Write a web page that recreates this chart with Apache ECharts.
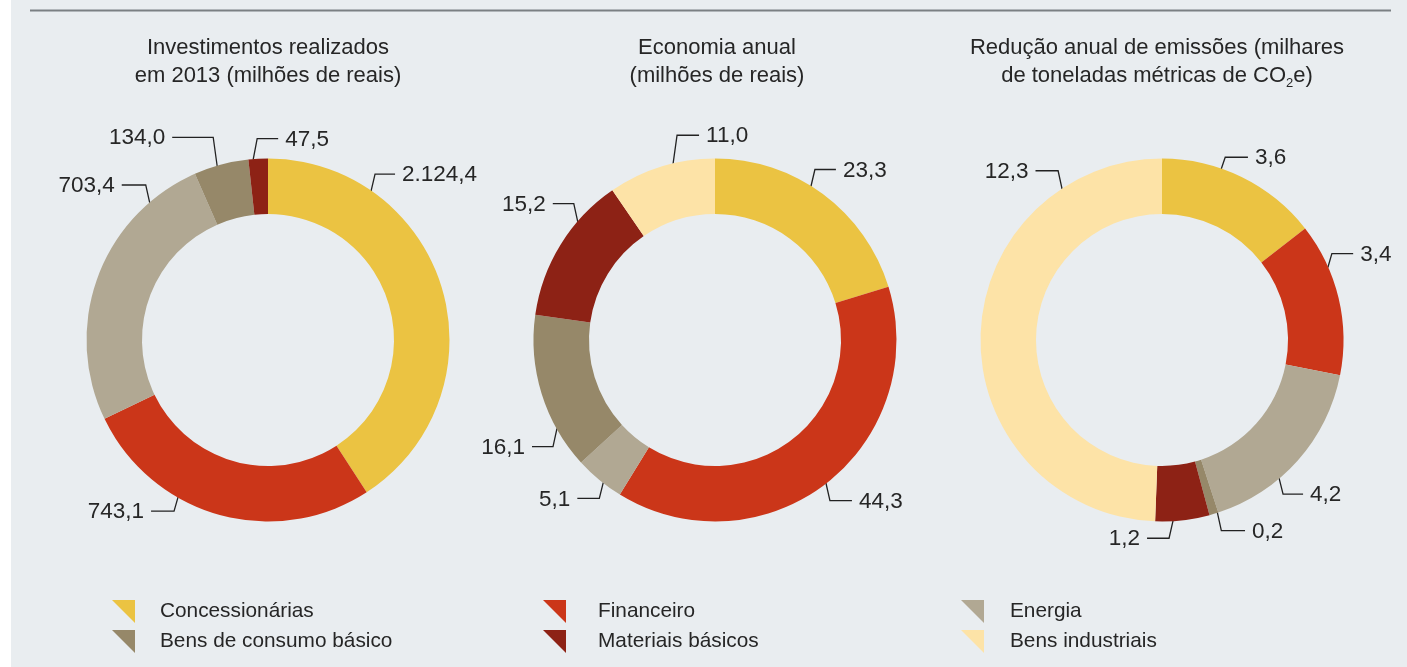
<!DOCTYPE html>
<html><head><meta charset="utf-8">
<script src="https://cdn.jsdelivr.net/npm/echarts@6/dist/echarts.min.js"></script>
<style>html,body{margin:0;padding:0;background:#fff;}#c{width:1407px;height:667px;}</style>
</head><body><div id="c"></div>
<script>
// ---------- DATA ----------
const categories = ['Concessionárias', 'Financeiro', 'Energia', 'Bens de consumo básico', 'Materiais básicos', 'Bens industriais'];
// Chart 1: slice sizes as drawn in the picture (the yellow slice is drawn ~1.124,4 although its printed label reads 2.124,4)
const invValues = [1124.4, 743.1, 703.4, 134.0, 47.5];
const invLabels = ['2.124,4', '743,1', '703,4', '134,0', '47,5'];
// Chart 2
const ecoValues = [23.3, 44.3, 5.1, 16.1, 15.2, 11.0];
const ecoLabels = ['23,3', '44,3', '5,1', '16,1', '15,2', '11,0'];
// Chart 3
const emiValues = [3.6, 3.4, 4.2, 0.2, 1.2, 12.3];
const emiLabels = ['3,6', '3,4', '4,2', '0,2', '1,2', '12,3'];
const titleTexts = [
  'Investimentos realizados\nem 2013 (milhões de reais)',
  'Economia anual\n(milhões de reais)',
  'Redução anual de emissões (milhares\nde toneladas métricas de CO{sub|2}e)'
];

// ---------- STYLE / LAYOUT ----------
const colors = ['#EBC342', '#CB3619', '#B1A893', '#968869', '#8D2215', '#FDE3A7'];
const FONT = "'Liberation Sans', Arial, sans-serif";
const TXT = '#262626';
const CENTERS = [[268, 340], [715, 340], [1162, 340]];
const TITLE_X = [268, 717, 1157];
const R_IN = 126, R_OUT = 181.5;
// leader line geometry per label: [anchor angle (deg clockwise from 12 o'clock), vertical leg, side (+1 right/-1 left), horizontal leg]
const LABEL_GEOM = [
  [[34.7, 17, 1, 20], [209.8, 14, -1, 23], [319.2, 18, -1, 24], [343.7, 29, -1, 41], [355.3, 21, 1, 21]],
  [[32, 17, 1, 21], [142.2, 17.6, 1, 22], [218.1, 16, -1, 22], [240.8, 18.4, -1, 21], [310.7, 18.4, -1, 21], [346.6, 28.7, 1, 22]],
  [[19.1, 11.7, 1, 22.7], [66.4, 14, 1, 21.3], [139.7, 16, 1, 20], [162.2, 18.3, 1, 23.7], [176.5, 17.6, -1, 22], [326.5, 18.3, -1, 22.6]]
];

function pieSeries(idx, values, labels) {
  return {
    type: 'pie',
    center: CENTERS[idx],
    radius: [R_IN, R_OUT],
    startAngle: 90,
    clockwise: true,
    silent: true,
    animation: false,
    avoidLabelOverlap: false,
    emphasis: { disabled: true },
    itemStyle: { borderWidth: 0 },
    data: values.map((v, i) => ({ name: categories[i], value: v, itemStyle: { color: colors[i] } })),
    label: {
      show: true, position: 'outside',
      formatter: p => labels[p.dataIndex],
      fontSize: 22.5, color: TXT, fontFamily: FONT
    },
    labelLine: { show: true, length: 15, length2: 20, smooth: false, lineStyle: { color: '#222', width: 1.3 } },
    labelLayout: function (p) {
      const g = LABEL_GEOM[idx][p.dataIndex];
      const a = g[0] * Math.PI / 180;
      const c = CENTERS[idx];
      const ax = c[0] + (R_OUT - 0.5) * Math.sin(a), ay = c[1] - (R_OUT - 0.5) * Math.cos(a);
      const vdir = Math.cos(a) > 0 ? -1 : 1;
      const side = g[2];
      const ex = ax + side * 4, ey = ay + vdir * g[1];
      const hx = ex + side * g[3];
      return {
        x: hx + side * 7, y: ey + 1,
        align: side > 0 ? 'left' : 'right', verticalAlign: 'middle',
        labelLinePoints: [[ax, ay], [ex, ey], [hx, ey]]
      };
    }
  };
}

const ICON = 'path://M0,0L10,0L10,10Z';
function legendCol(items, left, gap) {
  return {
    data: items, left: left, top: 600, orient: 'vertical', padding: 0,
    itemWidth: 23, itemHeight: 23, itemGap: 7, icon: ICON, selectedMode: false,
    itemStyle: { borderWidth: 0 },
    textStyle: { fontSize: 20.8, color: TXT, fontFamily: FONT, padding: [0, 0, 0, gap] }
  };
}

const chart = echarts.init(document.getElementById('c'), null, { renderer: 'canvas' });
chart.setOption({
  backgroundColor: '#ffffff',
  animation: false,
  graphic: [
    { type: 'rect', z: -10, shape: { x: 11, y: 0, width: 1396, height: 667 }, style: { fill: '#E9EDF0' }, silent: true },
    { type: 'line', z: -5, shape: { x1: 30, y1: 10.5, x2: 1391, y2: 10.5 }, style: { stroke: '#7B8083', lineWidth: 2 }, silent: true }
  ],
  title: titleTexts.map((t, i) => ({
    text: t, left: TITLE_X[i], top: 34, textAlign: 'center', padding: 0,
    textStyle: {
      fontSize: 22, fontWeight: 'normal', color: TXT, fontFamily: FONT, lineHeight: 28,
      rich: { sub: { fontSize: 13, fontFamily: FONT, color: TXT, verticalAlign: 'bottom', lineHeight: 14 } }
    }
  })),
  legend: [
    legendCol([categories[0], categories[3]], 112, 20),
    legendCol([categories[1], categories[4]], 543, 27),
    legendCol([categories[2], categories[5]], 961, 21)
  ],
  series: [
    pieSeries(0, invValues, invLabels),
    pieSeries(1, ecoValues, ecoLabels),
    pieSeries(2, emiValues, emiLabels)
  ]
});
</script>
</body></html>
